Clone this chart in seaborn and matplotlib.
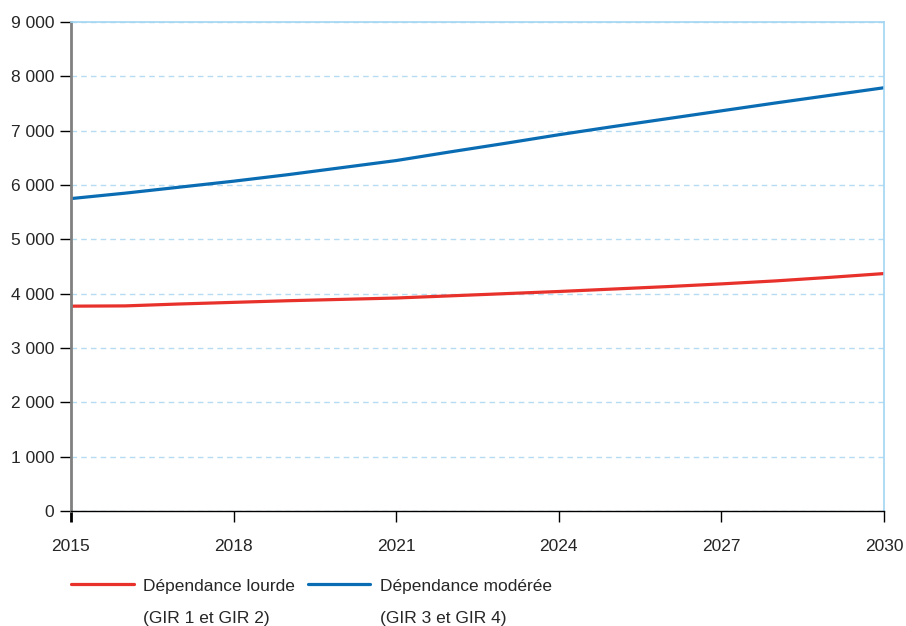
import pandas as pd
import numpy as np
from matplotlib import pyplot as plt
from matplotlib.ticker import FuncFormatter
import seaborn as sns

# values (thousands of people, annual)
years = list(range(2015, 2031))
lourde = [3770, 3775, 3810, 3840, 3870, 3895, 3920, 3960,
          4000, 4040, 4085, 4130, 4180, 4235, 4300, 4370]
moderee = [5750, 5850, 5960, 6070, 6190, 6320, 6450, 6610,
           6765, 6925, 7075, 7220, 7365, 7510, 7650, 7790]

names = ["Dépendance lourde", "Dépendance modérée"]
subnames = ["(GIR 1 et GIR 2)", "(GIR 3 et GIR 4)"]
colors = ["#e8312b", "#0a6db4"]
xticks = [2015, 2018, 2021, 2024, 2027, 2030]
yticks = list(range(0, 9001, 1000))

df = pd.DataFrame({
    "annee": years * 2,
    "valeur": lourde + moderee,
    "serie": [names[0]] * len(years) + [names[1]] * len(years),
})

sns.set_style("white")
plt.rcParams["font.family"] = ["Liberation Sans", "DejaVu Sans"]
fs = 12.5

fig = plt.figure(figsize=(9.06, 6.26), dpi=100)
ax = fig.add_axes([71 / 906, 115 / 626, 813 / 906, 489 / 626])

sns.lineplot(data=df, x="annee", y="valeur", hue="serie", palette=colors,
             linewidth=2.3, ax=ax, legend=False)

ax.set_xlim(2015, 2030)
ax.set_ylim(0, 9000)
ax.set_xticks(xticks)
ax.set_yticks(yticks)
ax.yaxis.set_major_formatter(FuncFormatter(lambda v, p: f"{v:,.0f}".replace(",", " ")))
ax.set_xlabel("")
ax.set_ylabel("")

ax.grid(axis="y", color="#b5dcf2", linestyle=(0, (4, 3)), linewidth=1)
ax.grid(axis="x", visible=False)
ax.set_axisbelow(True)

for s in ["top", "right"]:
    ax.spines[s].set_color("#a3d5f2")
    ax.spines[s].set_linewidth(1.2)
ax.spines["left"].set_color("#808080")
ax.spines["left"].set_linewidth(2)
ax.spines["bottom"].set_color("black")
ax.spines["bottom"].set_linewidth(1)

ax.tick_params(axis="y", direction="out", length=8, width=1, color="black",
               pad=4, labelsize=fs, left=True)
ax.tick_params(axis="x", direction="out", length=8, width=1, color="black",
               pad=12, labelsize=fs, bottom=True)
ax.xaxis.get_major_ticks()[0].tick1line.set_color("#808080")
ax.xaxis.get_major_ticks()[0].tick1line.set_markeredgewidth(2)

handles = [plt.Line2D([], [], color=c, linewidth=2.3) for c in colors]
leg = fig.legend(handles, names, loc="center left",
                 bbox_to_anchor=(71 / 906, 1 - 586 / 626), ncol=2,
                 frameon=False, fontsize=fs, handlelength=3.6,
                 handletextpad=0.55, columnspacing=0.75, borderaxespad=0,
                 borderpad=0)

fig.canvas.draw()
renderer = fig.canvas.get_renderer()
inv = fig.transFigure.inverted()
for t, sub in zip(leg.get_texts(), subnames):
    bb = t.get_window_extent(renderer)
    x0, y0 = inv.transform((bb.x0, bb.y0 + bb.height / 2 - 32))
    fig.text(x0, y0, sub, fontsize=fs, va="center", ha="left")

fig.savefig("out.png", dpi=100)
